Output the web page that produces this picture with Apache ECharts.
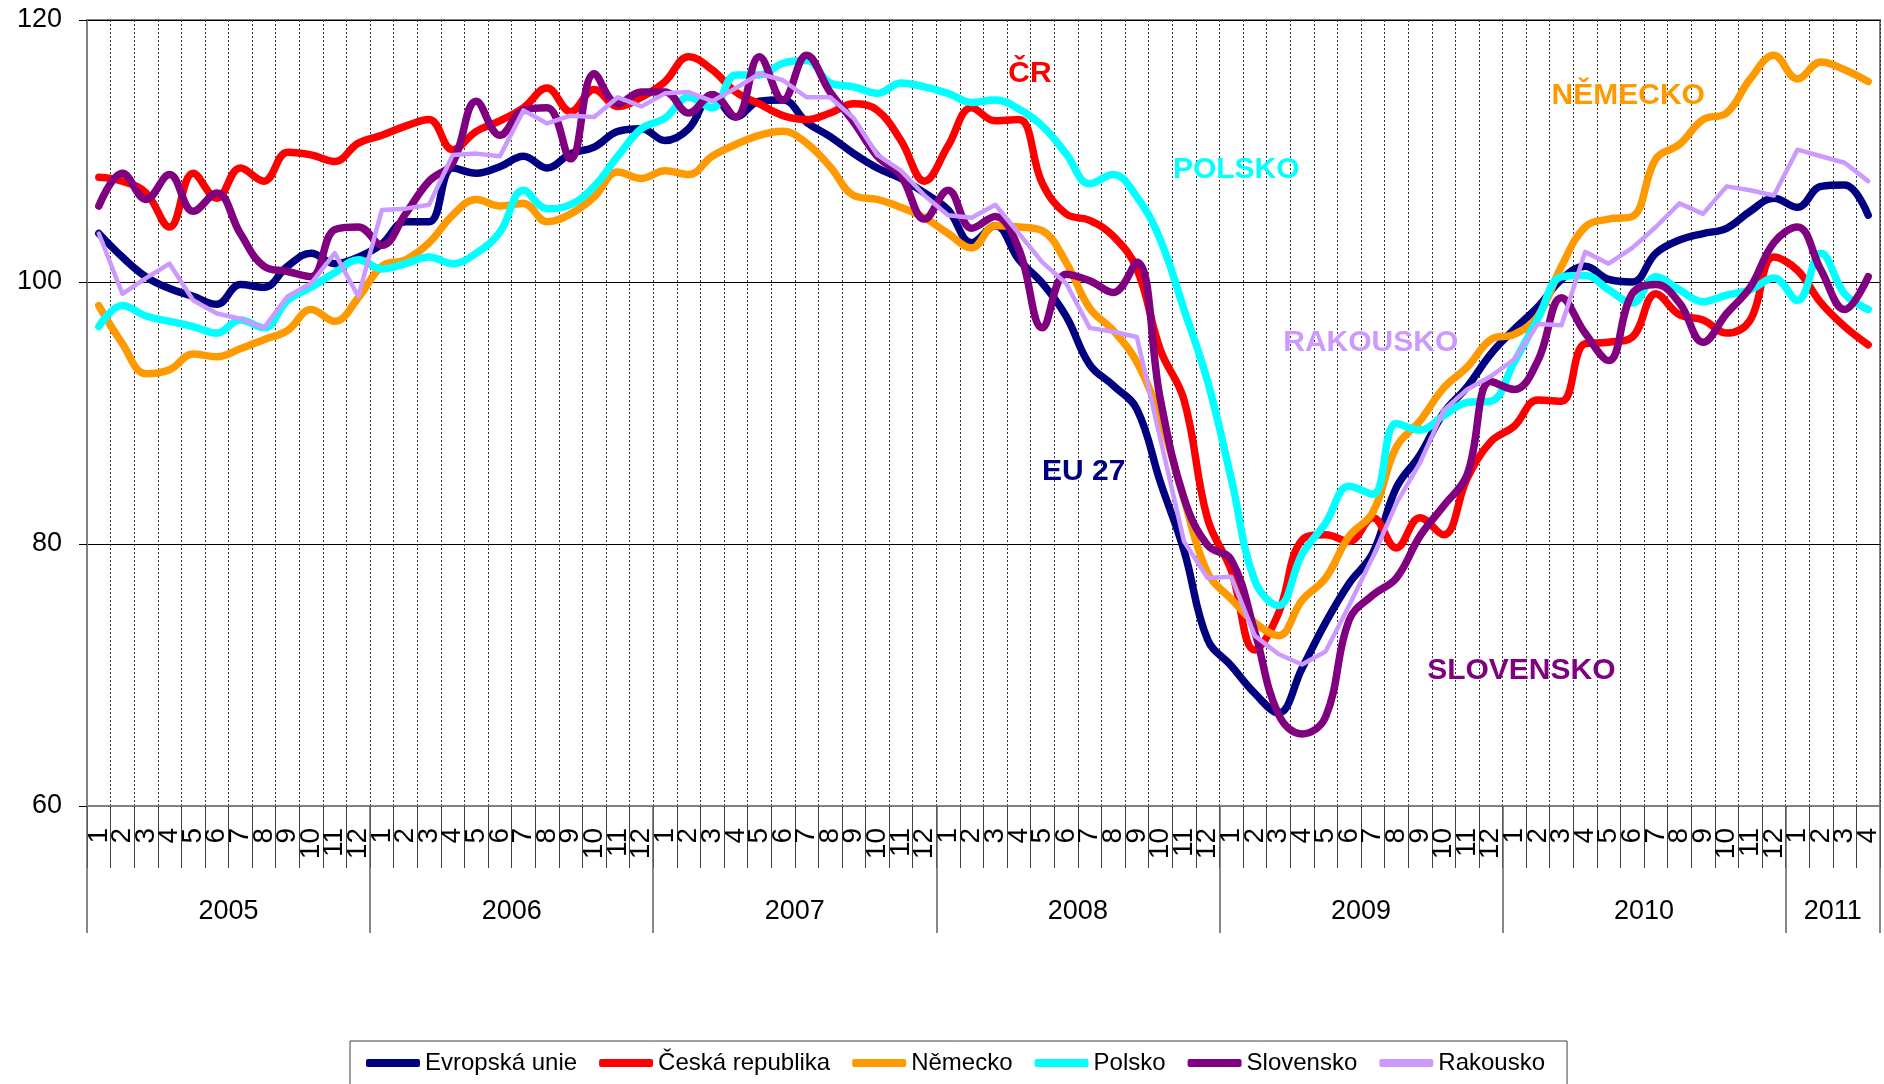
<!DOCTYPE html>
<html>
<head>
<meta charset="utf-8">
<script src="https://cdn.jsdelivr.net/npm/echarts@6/dist/echarts.min.js"></script>
<style>
  html, body { margin: 0; padding: 0; background: #fff; }
  #main { width: 1884px; height: 1084px; }
</style>
</head>
<body>
<div id="main"></div>
<script>
// roky a počet měsíců v každém roce
var years = ['2005', '2006', '2007', '2008', '2009', '2010', '2011'];
var monthsInYear = [12, 12, 12, 12, 12, 12, 4];

var seriesNames = ['Evropská unie', 'Česká republika', 'Německo', 'Polsko', 'Slovensko', 'Rakousko'];

var eu = [103.7, 101.9, 100.4, 99.5, 98.9, 98.3, 99.8, 99.6, 101.2, 102.2, 101.4, 101.9,
  102.9, 104.6, 104.6, 108.7, 108.3, 108.8, 109.6, 108.7, 109.8, 110.3, 111.5, 111.7,
  110.8, 111.7, 114.3, 112.6, 113.8, 113.9, 112.2, 111.1, 109.8, 108.7, 107.9, 106.8,
  105.5, 103.0, 104.3, 101.7, 99.9, 97.4, 93.7, 92.1, 90.3, 84.7, 79.5, 72.7,
  70.7, 68.6, 67.1, 70.5, 74.0, 77.0, 79.3, 84.3, 86.8, 90.0, 92.0, 94.5,
  96.4, 98.1, 100.2, 101.2, 100.2, 100.0, 102.2, 103.2, 103.7, 104.1, 105.4, 106.4,
  105.7, 107.3, 107.4, 105.1];
var cr = [108.0, 107.7, 106.8, 104.2, 108.3, 106.4, 108.7, 107.7, 109.9, 109.7, 109.2, 110.6,
  111.2, 111.9, 112.4, 110.1, 111.5, 112.3, 113.3, 114.8, 113.0, 114.7, 113.4, 114.1,
  115.3, 117.2, 116.2, 114.5, 113.6, 112.7, 112.4, 112.9, 113.6, 113.1, 110.8, 107.7,
  110.4, 113.3, 112.3, 112.4, 107.5, 105.2, 104.7, 103.5, 101.0, 94.8, 91.0, 81.9,
  78.0, 71.9, 74.7, 80.3, 80.7, 80.2, 82.0, 79.7, 82.0, 80.7, 85.0, 87.8,
  89.0, 91.0, 90.9, 95.3, 95.4, 95.8, 99.1, 97.5, 97.1, 96.1, 97.1, 101.9,
  100.9, 98.4, 96.6, 95.2];
var nemecko = [98.2, 95.3, 93.0, 93.3, 94.5, 94.3, 94.9, 95.6, 96.3, 97.9, 97.0, 98.8,
  101.2, 101.7, 103.0, 105.1, 106.3, 105.8, 106.0, 104.6, 105.2, 106.5, 108.4, 107.9,
  108.5, 108.2, 109.6, 110.5, 111.2, 111.5, 110.6, 108.8, 106.6, 106.3, 105.7, 104.9,
  103.7, 102.6, 104.3, 104.2, 103.9, 101.5, 98.0, 96.3, 93.9, 89.5, 83.4, 77.8,
  75.8, 74.0, 73.0, 75.7, 77.4, 80.6, 82.4, 87.4, 89.4, 91.9, 93.5, 95.6,
  96.0, 97.4, 101.2, 104.2, 104.8, 105.0, 109.4, 110.5, 112.4, 112.9, 115.5, 117.3,
  115.5, 116.8, 116.2, 115.3];
var polsko = [96.6, 98.2, 97.4, 97.0, 96.6, 96.1, 97.1, 96.5, 98.6, 99.6, 100.7, 101.7,
  101.0, 101.4, 101.9, 101.4, 102.2, 103.8, 107.0, 105.6, 105.9, 107.3, 109.6, 111.7,
  112.5, 114.1, 113.3, 115.8, 115.8, 116.7, 116.9, 115.2, 114.9, 114.4, 115.2, 114.9,
  114.4, 113.7, 113.9, 113.2, 111.9, 109.8, 107.5, 108.2, 106.5, 103.2, 97.9, 92.4,
  85.0, 77.2, 75.3, 79.2, 81.6, 84.4, 83.8, 89.2, 88.7, 89.8, 90.8, 90.9,
  93.9, 97.2, 100.4, 100.5, 99.4, 98.4, 100.4, 99.4, 98.5, 99.0, 99.4, 100.3,
  98.6, 102.2, 99.1, 97.9];
var slovensko = [105.8, 108.3, 106.3, 108.2, 105.4, 106.8, 103.7, 101.2, 100.8, 100.4, 104.0, 104.2,
  102.8, 105.2, 107.7, 109.1, 113.8, 111.2, 113.1, 113.3, 109.4, 115.9, 113.6, 114.5,
  114.5, 112.9, 114.3, 112.6, 117.2, 113.9, 117.3, 114.5, 112.2, 109.6, 108.1, 104.8,
  107.0, 104.1, 105.0, 102.5, 96.5, 100.6, 100.1, 99.2, 101.5, 91.0, 83.5, 79.9,
  78.8, 73.3, 67.0, 65.5, 66.8, 74.2, 76.1, 77.4, 80.6, 82.9, 85.3, 92.4,
  91.8, 94.0, 98.8, 96.1, 94.0, 99.1, 99.8, 98.4, 95.4, 97.6, 99.6, 103.0,
  104.2, 100.9, 97.9, 100.4];
var rakousko = [103.7, 99.1, 100.3, 101.4, 98.6, 97.6, 97.2, 96.5, 98.9, 99.9, 102.2, 98.9,
  105.5, 105.6, 105.9, 109.7, 109.8, 109.6, 113.1, 112.1, 112.7, 112.6, 114.1, 113.4,
  114.4, 114.5, 113.8, 114.8, 115.9, 115.4, 114.1, 114.1, 112.5, 109.7, 108.5, 106.6,
  105.1, 104.9, 105.9, 103.7, 101.5, 99.9, 96.5, 96.2, 95.8, 88.0, 80.2, 77.4,
  77.5, 73.0, 71.6, 70.8, 71.8, 75.3, 79.0, 83.1, 86.2, 90.2, 91.8, 92.8,
  94.1, 96.8, 96.7, 102.3, 101.4, 102.6, 104.2, 106.0, 105.2, 107.3, 107.0, 106.6,
  110.1, 109.6, 109.1, 107.7];

var colors = ['#000080', '#FF0000', '#FF9900', '#00FFFF', '#800080', '#CC99FF'];
var seriesData = [eu, cr, nemecko, polsko, slovensko, rakousko];

// popisky v grafu: [text, index měsíce, hodnota, posun x]
var notes = [
  ['EU 27', 42, 85.5, -6],
  ['ČR', 39, 115.9, 11],
  ['NĚMECKO', 65, 114.2, -4],
  ['POLSKO', 48, 108.6, 5],
  ['SLOVENSKO', 60, 70.3, 7],
  ['RAKOUSKO', 54, 95.4, -2]
];

// osa měsíců
var months = [];
years.forEach(function (y, k) {
  for (var m = 1; m <= monthsInYear[k]; m++) months.push(String(m));
});

// osa roků - body na hranicích měsíců
var yearStarts = [];
var yearLabels = [];
var pos = 0;
years.forEach(function (y, k) {
  yearStarts.push(pos);
  pos += monthsInYear[k];
});
for (var j = 0; j <= months.length; j++) yearLabels.push('');
years.forEach(function (y, k) {
  yearLabels[yearStarts[k] + monthsInYear[k] / 2] = y;
});
var yearBounds = yearStarts.concat([months.length]);

var font = "'Liberation Sans', Arial, sans-serif";

var series = seriesNames.map(function (name, k) {
  var thin = name === 'Rakousko';
  var s = {
    name: name,
    type: 'line',
    data: seriesData[k],
    xAxisIndex: 0,
    smooth: thin ? false : 0.4,
    symbol: 'none',
    lineStyle: { width: thin ? 4.5 : 7.5, color: colors[k], cap: 'round', join: 'round' },
    itemStyle: { color: colors[k] },
    z: 3 + k
  };
  var n = notes[k];
  s.markPoint = {
    symbol: 'circle',
    symbolSize: 1,
    itemStyle: { color: 'rgba(0,0,0,0)' },
    silent: true,
    label: {
      show: true,
      position: 'inside',
      formatter: n[0],
      offset: [n[3], 0],
      color: colors[k],
      fontSize: 30,
      fontWeight: 'bold',
      fontFamily: font
    },
    data: [{ coord: [n[1], n[2]] }]
  };
  return s;
});

var option = {
  animation: false,
  backgroundColor: '#fff',
  grid: {
    left: 87, right: 4, top: 20, bottom: 278,
    show: true, borderColor: '#808080', borderWidth: 2
  },
  legend: {
    data: seriesNames,
    left: 350,
    top: 1041,
    padding: [10, 22, 40, 16],
    borderColor: '#404040',
    borderWidth: 1,
    itemWidth: 54,
    itemHeight: 8,
    itemGap: 22,
    icon: 'roundRect',
    textStyle: { fontSize: 24, color: '#000', fontFamily: font }
  },
  xAxis: [{
    type: 'category',
    position: 'bottom',
    data: months,
    boundaryGap: true,
    axisLine: { lineStyle: { color: '#808080', width: 2 } },
    axisTick: { show: true, interval: 0, length: 62, lineStyle: { color: '#404040', width: 1 } },
    axisLabel: { interval: 0, rotate: 90, margin: 22, fontSize: 28, color: '#000', fontFamily: font },
    splitLine: { show: true, interval: 0, lineStyle: { color: '#333', width: 1, type: [2, 2] } }
  }, {
    type: 'category',
    position: 'bottom',
    data: yearLabels,
    boundaryGap: false,
    axisLine: { show: false },
    axisTick: {
      show: true,
      length: 127,
      interval: function (idx) { return yearBounds.indexOf(idx) >= 0; },
      lineStyle: { color: '#606060', width: 1.5 }
    },
    axisLabel: { interval: 0, margin: 92, fontSize: 27, color: '#000', fontFamily: font },
    splitLine: { show: false }
  }],
  yAxis: {
    type: 'value',
    min: 60,
    max: 120,
    interval: 20,
    axisLine: { show: true, lineStyle: { color: '#808080', width: 2 } },
    axisTick: { show: true, length: 8, lineStyle: { color: '#000' } },
    axisLabel: { margin: 25, fontSize: 27, color: '#000', fontFamily: font },
    splitLine: { show: true, lineStyle: { color: '#000', width: 1 } }
  },
  series: series
};

var myChart = echarts.init(document.getElementById('main'));
myChart.setOption(option);
</script>
</body>
</html>
